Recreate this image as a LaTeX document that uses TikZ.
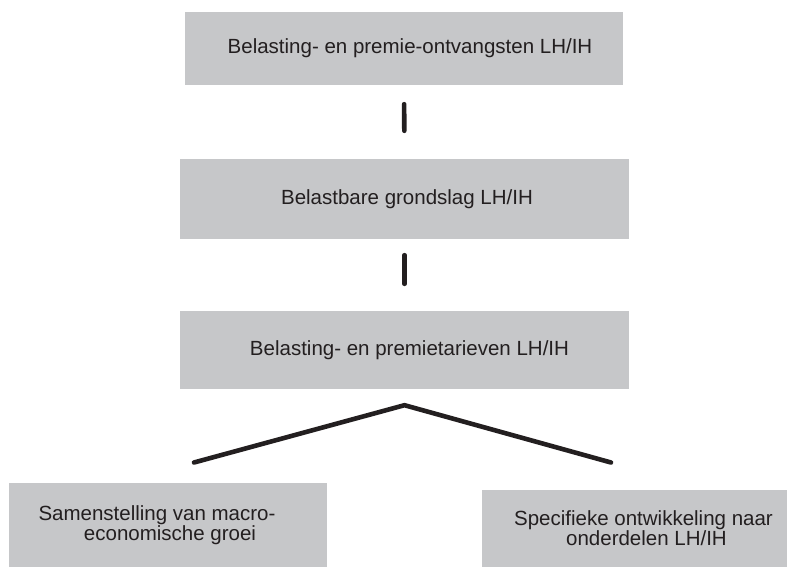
\documentclass[tikz,border=0pt]{standalone}
\usepackage{fontspec}
\setmainfont{Liberation Sans}
\usepackage{xcolor}
\definecolor{boxgray}{HTML}{C6C7C9}
\definecolor{inkdark}{HTML}{231F20}
\usepackage{tikz}

\begin{document}
\begin{tikzpicture}[x=1pt,y=-1pt,
box/.style={fill=boxgray,text=inkdark,inner sep=0pt,align=center,
font=\fontsize{20.5}{19}\selectfont},
link/.style={line width=4.6pt,line cap=round,color=inkdark}]
\useasboundingbox (0,0) rectangle (787,567);
\node[box,minimum width=438pt,minimum height=73pt] (ontv) at (404,48.5) {\hspace*{12pt}Belasting- en premie-ontvangsten LH/IH};
\node[box,minimum width=449pt,minimum height=80pt] (grond) at (404.5,199) {\hspace*{5pt}Belastbare grondslag LH/IH};
\node[box,minimum width=449pt,minimum height=78pt] (tarief) at (404.5,350) {\hspace*{10pt}Belasting- en premietarieven LH/IH};
\node[box,minimum width=318pt,minimum height=84pt] (macro) at (168,525) {Samenstelling van macro-\hspace*{22pt}\\\hspace*{4pt}economische groei};
\node[box,minimum width=305pt,minimum height=77pt] (onder) at (634.5,528.5) {\hspace*{18pt}Specifieke ontwikkeling naar\\\hspace*{24pt}onderdelen LH/IH};
\coordinate (top) at ([yshift=-16pt]tarief.south);
\coordinate (linker) at (194,462.5);
\coordinate (rechter) at (611,462.5);
\draw[link,shorten <=19pt,shorten >=28pt] (ontv.south) -- (grond.north);
\draw[link,shorten <=16pt,shorten >=27pt] (grond.south) -- (tarief.north);
\draw[link,line join=round] (linker) -- (top) -- (rechter);
\end{tikzpicture}
\end{document}
